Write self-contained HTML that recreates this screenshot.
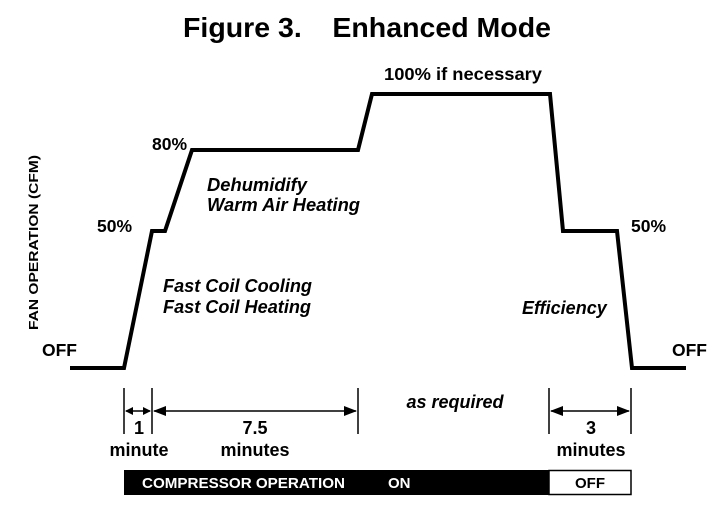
<!DOCTYPE html>
<html><head><style>
body{margin:0;background:#fff;width:717px;height:505px;overflow:hidden}
svg{font-family:"Liberation Sans",Arial,sans-serif;font-weight:bold}
</style></head><body>
<svg width="717" height="505" viewBox="0 0 717 505">
<text x="183" y="37" font-size="28" textLength="368" lengthAdjust="spacingAndGlyphs">Figure 3.<tspan dx="30">Enhanced Mode</tspan></text>
<polyline points="70,368 124,368 152,231 165,231 192,150 358,150 372,94 550,94 563,231 617,231 632,368 686,368" fill="none" stroke="#000" stroke-width="4"/>
<text x="384" y="80" font-size="17.5" textLength="158" lengthAdjust="spacingAndGlyphs">100% if necessary</text>
<text x="152" y="150" font-size="17.5">80%</text>
<text x="97" y="232" font-size="17.5">50%</text>
<text x="631" y="232" font-size="17.5">50%</text>
<text x="42" y="356" font-size="17.5">OFF</text>
<text x="672" y="356" font-size="17.5">OFF</text>
<g font-style="italic" font-size="18">
<text x="207" y="191" textLength="100" lengthAdjust="spacingAndGlyphs">Dehumidify</text>
<text x="207" y="211" textLength="153" lengthAdjust="spacingAndGlyphs">Warm Air Heating</text>
<text x="163" y="292" textLength="149" lengthAdjust="spacingAndGlyphs">Fast Coil Cooling</text>
<text x="163" y="313" textLength="148" lengthAdjust="spacingAndGlyphs">Fast Coil Heating</text>
<text x="522" y="314">Efficiency</text>
<text x="455" y="408" text-anchor="middle">as required</text>
</g>
<text transform="translate(38,330) rotate(-90)" font-size="13" textLength="175" lengthAdjust="spacingAndGlyphs">FAN OPERATION (CFM)</text>
<g stroke="#000" stroke-width="1.5">
<line x1="124" y1="388" x2="124" y2="434"/><line x1="152" y1="388" x2="152" y2="434"/>
<line x1="358" y1="388" x2="358" y2="434"/><line x1="549" y1="388" x2="549" y2="434"/>
<line x1="631" y1="388" x2="631" y2="434"/>
<line x1="126" y1="411" x2="150" y2="411"/><line x1="154" y1="411" x2="356" y2="411"/>
<line x1="551" y1="411" x2="629" y2="411"/>
</g>
<g fill="#000">
<polygon points="125,411 133,407 133,415"/><polygon points="151,411 143,407 143,415"/>
<polygon points="153,411 166,406 166,416"/><polygon points="357,411 344,406 344,416"/>
<polygon points="550,411 563,406 563,416"/><polygon points="630,411 617,406 617,416"/>
</g>
<g font-size="18" text-anchor="middle">
<text x="139" y="434">1</text><text x="139" y="456">minute</text>
<text x="255" y="434">7.5</text><text x="255" y="456">minutes</text>
<text x="591" y="434">3</text><text x="591" y="456">minutes</text>
</g>
<rect x="124" y="470" width="425" height="25" fill="#000"/>
<rect x="549" y="470.5" width="82" height="24" fill="#fff" stroke="#000" stroke-width="1.5"/>
<text x="142" y="488" font-size="15" fill="#fff" textLength="203" lengthAdjust="spacingAndGlyphs">COMPRESSOR OPERATION</text>
<text x="388" y="488" font-size="15" fill="#fff">ON</text>
<text x="590" y="488" font-size="15" text-anchor="middle">OFF</text>
</svg>
</body></html>
